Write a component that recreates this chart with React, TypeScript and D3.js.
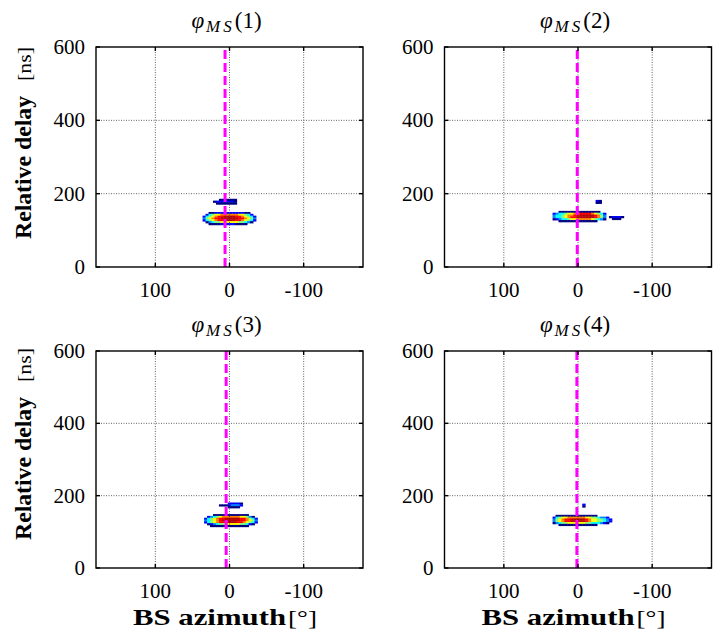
import React from "react";
import * as d3 from "d3";

// ---------- data ----------
const azimuthDomain = [180, -180];
const delayDomain = [0, 600];
const azimuthTicks = [100, 0, -100];
const delayTicks = [0, 200, 400, 600];
const delayGrid = [200, 400];
const panelNumbers = [1, 2, 3, 4];
const meanAzimuth = [6, 1, 4.5, 1.5];
const AZ_STEP = 4; // degrees per cell
const DELAY_STEP = 5; // ns per cell

// Each blob: first azimuth (leftmost column, decreasing to the right), first delay (top row),
// rows of colour levels 0..9 (0 = below threshold)
const panel1Blobs = [
  {
    az0: 34,
    delay0: 147,
    rows: [
      "001122222222221100",
      "024566777777665420",
      "245678899998876542",
      "356788999999887653",
      "245678899998876542",
      "013455666666554310",
      "001111222221111000",
    ],
  },
  {
    az0: 20,
    delay0: 183,
    rows: ["00111111", "12222221", "01111111"],
  },
];

const panel2Blobs = [
  {
    az0: 32,
    delay0: 150,
    rows: [
      "001111111111111100",
      "234456677888876542",
      "344567788999998753",
      "344567889999998753",
      "123445667777765431",
      "001111111111111000",
    ],
  },
  { az0: -44, delay0: 136, rows: ["12221", "01110"] },
  { az0: -26, delay0: 180, rows: ["21", "11"] },
];

const panel3Blobs = [
  {
    az0: 32,
    delay0: 146,
    rows: [
      "000111111111111000",
      "023456777777665310",
      "245678899999887542",
      "345678999999887653",
      "245678899998876542",
      "012345566666554210",
      "001111111111111000",
    ],
  },
  { az0: 12, delay0: 178, rows: ["00022221", "11123332", "00011110"] },
];

const panel4Blobs = [
  {
    az0: 32,
    delay0: 144,
    rows: [
      "01111111111111100000",
      "24566777777665543320",
      "35678899999876655432",
      "35678899999876655432",
      "13455666666554443210",
      "00111111111111100000",
    ],
  },
  { az0: -8, delay0: 175, rows: ["2", "1"] },
];

const panelBlobs = [panel1Blobs, panel2Blobs, panel3Blobs, panel4Blobs];

// ---------- layout ----------
const W = 715;
const H = 639;
const colLeft = [96, 444.5];
const rowTop = [47, 351];
const rowHeight = [220, 217];
const plotWidth = 267;

const serif = { fontFamily: "Liberation Serif, DejaVu Serif, Times New Roman, serif" };

function jet(level: number) {
  const t = Math.min(0.95, (level - 1) / 8);
  const c = (v: number) => Math.round(255 * Math.max(0, Math.min(1, 1.5 - Math.abs(v))));
  return `rgb(${c(4 * t - 3)},${c(4 * t - 2)},${c(4 * t - 1)})`;
}

function Panel({ idx }: { idx: number }) {
  const col = idx % 2;
  const row = Math.floor(idx / 2);
  const left = colLeft[col];
  const top = rowTop[row];
  const h = rowHeight[row];
  const x = d3.scaleLinear().domain(azimuthDomain).range([left, left + plotWidth]);
  const y = d3.scaleLinear().domain(delayDomain).range([top + h, top]);
  const bottom = top + h;
  const right = left + plotWidth;
  const cells: React.ReactNode[] = [];
  panelBlobs[idx].forEach((b, bi) => {
    b.rows.forEach((r, ri) => {
      const d = b.delay0 - ri * DELAY_STEP;
      r.split("").forEach((ch, ci) => {
        const lv = +ch;
        if (!lv) return;
        const az = b.az0 - ci * AZ_STEP;
        const x0 = x(az + AZ_STEP / 2);
        const x1 = x(az - AZ_STEP / 2);
        const y0 = y(d + DELAY_STEP / 2);
        const y1 = y(d - DELAY_STEP / 2);
        cells.push(
          <rect
            key={`${bi}-${ri}-${ci}`}
            x={x0 - 0.2}
            y={y0 - 0.2}
            width={x1 - x0 + 0.4}
            height={y1 - y0 + 0.4}
            fill={jet(lv)}
          />
        );
      });
    });
  });
  const tickLen = 4;
  return (
    <g>
      <g filter="url(#soft)">{cells}</g>
      {azimuthTicks.map((t) => (
        <line key={"gx" + t} x1={x(t)} x2={x(t)} y1={top} y2={bottom} stroke="#222" strokeWidth={0.7} strokeDasharray="1,1.5" />
      ))}
      {delayGrid.map((t) => (
        <line key={"gy" + t} x1={left} x2={right} y1={y(t)} y2={y(t)} stroke="#222" strokeWidth={0.7} strokeDasharray="1,1.5" />
      ))}
      <line
        x1={x(meanAzimuth[idx])}
        x2={x(meanAzimuth[idx])}
        y1={y(0)}
        y2={y(600)}
        stroke="#ff00ff"
        strokeWidth={3}
        strokeDasharray="9,4"
      />
      <rect x={left} y={top} width={plotWidth} height={h} fill="none" stroke="#000" strokeWidth={1.4} />
      {azimuthTicks.map((t) => (
        <g key={"tx" + t}>
          <line x1={x(t)} x2={x(t)} y1={bottom} y2={bottom - tickLen} stroke="#000" strokeWidth={1.4} />
          <line x1={x(t)} x2={x(t)} y1={top} y2={top + tickLen} stroke="#000" strokeWidth={1.4} />
          <text x={x(t)} y={bottom + 30} textAnchor="middle" style={serif} fontSize={21}>
            {t === 0 ? "0" : t < 0 ? "-" + Math.abs(t) : String(t)}
          </text>
        </g>
      ))}
      {delayTicks.map((t) => (
        <g key={"ty" + t}>
          <line x1={left} x2={left + tickLen} y1={y(t)} y2={y(t)} stroke="#000" strokeWidth={1.4} />
          <line x1={right} x2={right - tickLen} y1={y(t)} y2={y(t)} stroke="#000" strokeWidth={1.4} />
          <text x={left - 11} y={y(t) + 7} textAnchor="end" style={serif} fontSize={21}>
            {t}
          </text>
        </g>
      ))}
      <text x={(left + right) / 2 - 3} y={top - 19} textAnchor="middle" style={serif} fontSize={23}>
        <tspan fontStyle="italic">φ</tspan>
        <tspan fontStyle="italic" fontSize={17} dy={4} dx={2} letterSpacing={3}>MS</tspan>
        <tspan dy={-4}>({panelNumbers[idx]})</tspan>
      </text>
    </g>
  );
}

export default function App() {
  return (
    <svg width={W} height={H} style={{ position: "absolute", left: 0, top: 0, background: "#fff" }}>
      <defs>
        <filter id="soft" x="-10%" y="-50%" width="120%" height="200%">
          <feGaussianBlur stdDeviation="0.5" />
        </filter>
      </defs>
      <rect x={0} y={0} width={W} height={H} fill="#fff" />
      {[0, 1, 2, 3].map((i) => (
        <Panel key={i} idx={i} />
      ))}
      {rowTop.map((t, r) => (
        <g key={"yl" + r} transform={`translate(31, ${t + rowHeight[r] - 28}) rotate(-90)`}>
          <text x={0} y={0} style={serif} fontSize={23} fontWeight="bold" textLength={143} lengthAdjust="spacingAndGlyphs">
            Relative delay
          </text>
          <text x={158} y={0} style={serif} fontSize={18} textLength={34} lengthAdjust="spacingAndGlyphs">
            [ns]
          </text>
        </g>
      ))}
      {colLeft.map((l, c) => (
        <g key={"xl" + c}>
          <text x={l + 37} y={625} style={serif} fontSize={23} fontWeight="bold" textLength={153} lengthAdjust="spacingAndGlyphs">
            BS azimuth
          </text>
          <text x={l + 192} y={625} style={serif} fontSize={20} textLength={29} lengthAdjust="spacingAndGlyphs">
            [°]
          </text>
        </g>
      ))}
    </svg>
  );
}
